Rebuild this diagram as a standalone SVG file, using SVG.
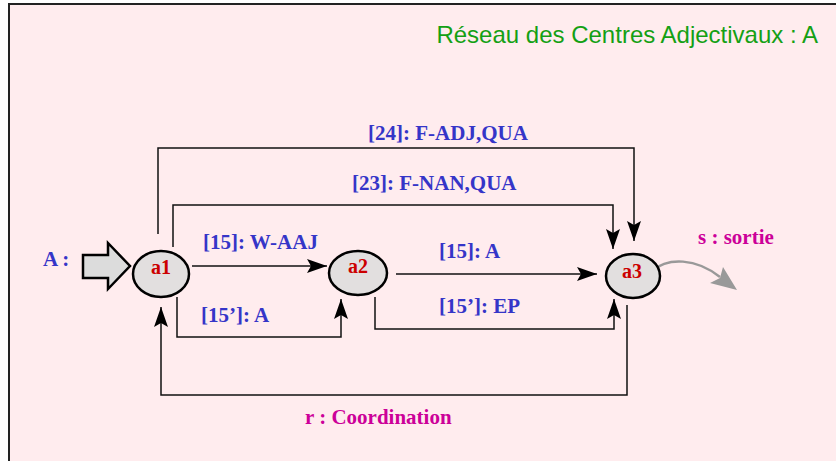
<svg xmlns="http://www.w3.org/2000/svg" width="836" height="461" viewBox="0 0 836 461">
<defs>
<style>
.lbl{font-family:"Liberation Serif","Times New Roman",serif;font-weight:bold;font-size:21px;fill:#3535c8}
.mag{font-family:"Liberation Serif","Times New Roman",serif;font-weight:bold;font-size:21px;fill:#cc0099}
.nodetxt{font-family:"Liberation Serif","Times New Roman",serif;font-weight:bold;font-size:20px;fill:#cc0000;text-anchor:middle}
.title{font-family:"Liberation Sans",Arial,sans-serif;font-size:24px;fill:#14a014;text-anchor:end}
.node{fill:#e2dfdf;stroke:#000;stroke-width:2.5}
.conn{fill:none;stroke:#111;stroke-width:1.5}
</style>
<marker id="ah" viewBox="0 0 20 14" refX="20" refY="7" markerWidth="20" markerHeight="14" markerUnits="userSpaceOnUse" orient="auto">
<path d="M0,0 L20,7 L0,14 L4,7 z" fill="#000"/>
</marker>
</defs>
<rect x="0" y="0" width="836" height="461" fill="#ffffff"/>
<rect x="9" y="4" width="900" height="500" fill="#ffecee" stroke="#222" stroke-width="2"/>
<text class="title" x="818" y="43">Réseau des Centres Adjectivaux : A</text>

<g id="connectors">
<path class="conn" d="M192,266 H327" marker-end="url(#ah)"/>
<path class="conn" d="M177,297 V337 H341 V299" marker-end="url(#ah)"/>
<path class="conn" d="M396,274 H597" marker-end="url(#ah)"/>
<path class="conn" d="M375,297 V329 H614 V299" marker-end="url(#ah)"/>
<path class="conn" d="M173,247 V205 H613 V249" marker-end="url(#ah)"/>
<path class="conn" d="M158,234 V148 H634 V241" marker-end="url(#ah)"/>
<path class="conn" d="M627,305 V395 H161 V307" marker-end="url(#ah)"/>
<path d="M652,271 C668,257 696,258 720,277" fill="none" stroke="#999" stroke-width="2.5"/>
<polygon points="737,290 723,267 720,278 710,283" fill="#999"/>
<polygon points="83,255 108,255 108,243 130,266 108,289 108,278 83,278" fill="#dcdcdc" stroke="#000" stroke-width="2.5" stroke-linejoin="miter"/>
</g>

<g id="labels">
<text class="lbl" x="368" y="140">[24]: F-ADJ,QUA</text>
<text class="lbl" x="352" y="190">[23]: F-NAN,QUA</text>
<text class="lbl" x="203" y="249">[15]: W-AAJ</text>
<text class="lbl" x="201" y="322">[15’]: A</text>
<text class="lbl" x="439" y="258">[15]: A</text>
<text class="lbl" x="439" y="313">[15’]: EP</text>
<text class="lbl" x="43" y="266">A :</text>
<text class="mag" x="698" y="244">s : sortie</text>
<text class="mag" x="305" y="424">r : Coordination</text>
</g>

<g id="a1">
<ellipse class="node" cx="161" cy="274" rx="28" ry="23"/>
<text class="nodetxt" x="161" y="274">a1</text>
</g>
<g id="a2">
<ellipse class="node" cx="358" cy="273" rx="29" ry="22"/>
<text class="nodetxt" x="358" y="273">a2</text>
</g>
<g id="a3">
<ellipse class="node" cx="633" cy="276" rx="27" ry="22"/>
<text class="nodetxt" x="632" y="278">a3</text>
</g>
</svg>
